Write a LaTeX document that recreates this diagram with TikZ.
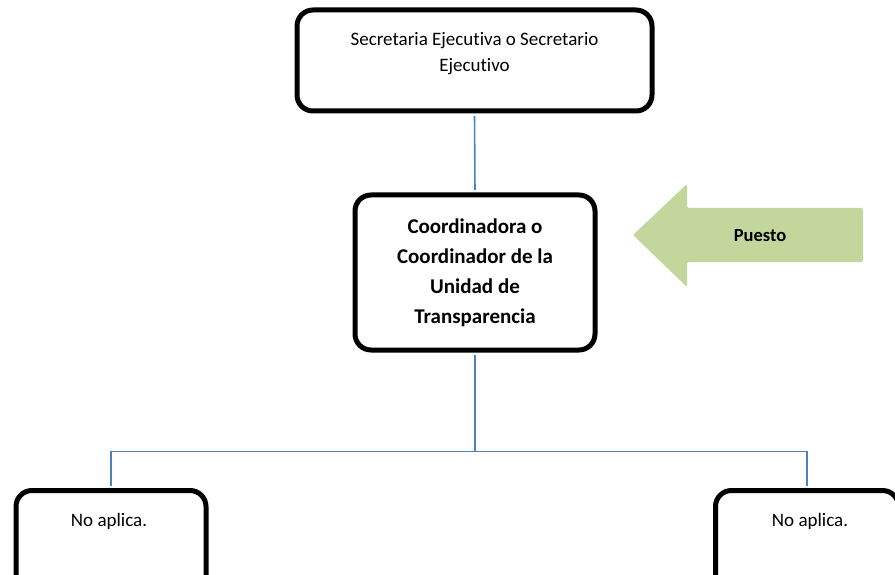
\documentclass[tikz,border=0pt]{standalone}
\usepackage{fontspec}
\setmainfont{Carlito}[Ligatures=NoCommon]
\usetikzlibrary{positioning}
\definecolor{linkblue}{RGB}{79,129,189}
\definecolor{tagfill}{RGB}{195,214,155}

\begin{document}
\begin{tikzpicture}[x=1pt, y=-1pt,
    orgbox/.style={draw, line width=5pt, rounded corners=16pt,
                   align=center, inner sep=0pt},
    boxtext/.style={align=center, font=\fontsize{19}{26}\selectfont},
    link/.style={linkblue, line width=1.6pt,
                 shorten <=2.5pt, shorten >=2.5pt}]
  \useasboundingbox (0,0) rectangle (895,575);
  \clip (0,0) rectangle (895,575);
  % boxes
  \node[orgbox, minimum width=355pt, minimum height=101pt] (sec) at (474.5,60.5) {};
  \node[boxtext] (secText) at ([yshift=7pt]sec.center)
    {Secretaria Ejecutiva o Secretario\\Ejecutivo};
  \node[orgbox, minimum width=240pt, minimum height=155pt,
        font=\bfseries\fontsize{21}{30}\selectfont] (coord) at (475,272.5)
    {Coordinadora o\\Coordinador de la\\Unidad de\\Transparencia};
  \node[orgbox, minimum width=190pt, minimum height=120pt] (naLeft) at (111,550.5) {};
  \node[orgbox, minimum width=183pt, minimum height=120pt] (naRight) at (807,550.5) {};
  \node[boxtext] (naLeftText) at ([xshift=-2pt, yshift=-33pt]naLeft.north) {No aplica.};
  \node[boxtext] (naRightText) at ([xshift=3pt, yshift=-33pt]naRight.north) {No aplica.};
  % tag arrow
  \fill[tagfill, rounded corners=2pt] (633,235) -- (687,184) -- (687,208)
    -- (863,208) -- (863,262) -- (687,262) -- (687,287) -- cycle;
  \node[font=\bfseries\fontsize{18.5}{20}\selectfont] (tag) at (760,236) {Puesto};
  % connectors
  \draw[link] (sec.south) -- (coord.north);
  \draw[link, shorten >=0pt] (coord.south) -- ++(0,99) coordinate (bus);
  \draw[link, shorten <=0pt] (bus) -| (naLeft.north);
  \draw[link, shorten <=0pt] (bus) -| (naRight.north);
\end{tikzpicture}
\end{document}
